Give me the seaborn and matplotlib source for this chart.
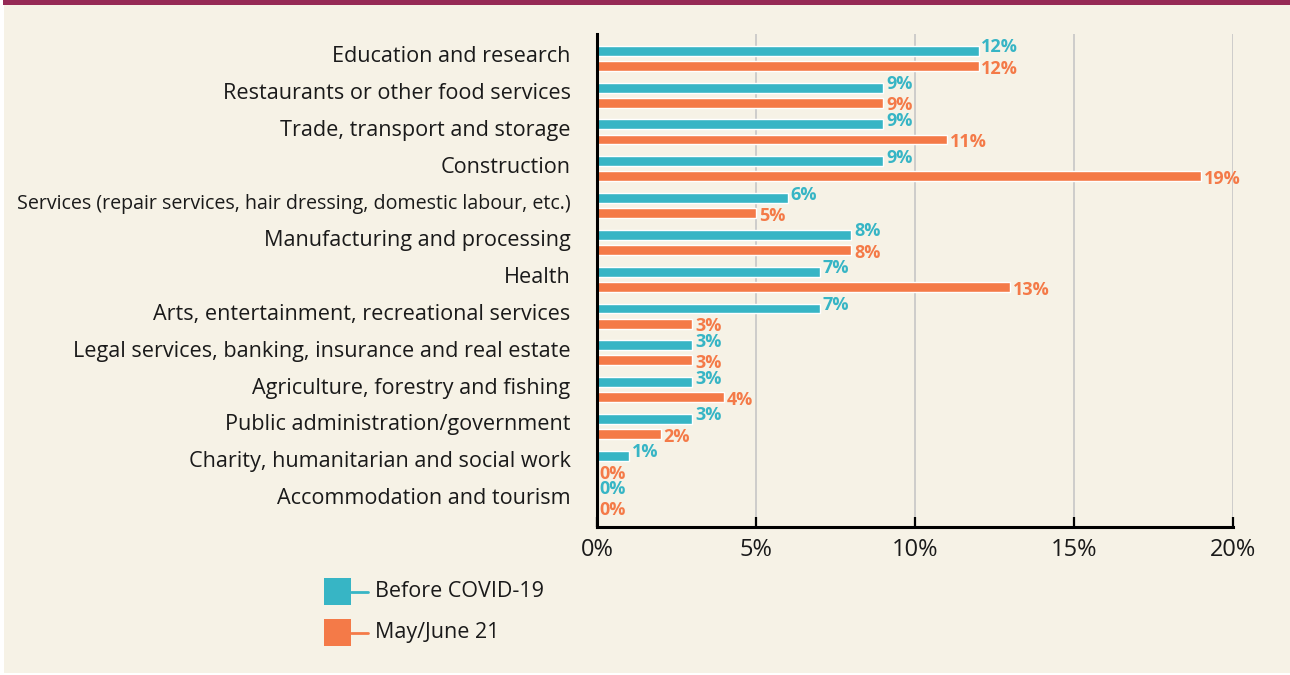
import numpy as np
import pandas as pd
import matplotlib.pyplot as plt
import matplotlib.transforms as mtransforms
import seaborn as sns
from matplotlib.patches import Rectangle

# Sectors, top to bottom
sectors = [
    'Education and research',
    'Restaurants or other food services',
    'Trade, transport and storage',
    'Construction',
    'Services (repair services, hair dressing, domestic labour, etc.)',
    'Manufacturing and processing',
    'Health',
    'Arts, entertainment, recreational services',
    'Legal services, banking, insurance and real estate',
    'Agriculture, forestry and fishing',
    'Public administration/government',
    'Charity, humanitarian and social work',
    'Accommodation and tourism',
]
before_covid = [12, 9, 9, 9, 6, 8, 7, 7, 3, 3, 3, 1, 0]
may_june = [12, 9, 11, 19, 5, 8, 13, 3, 3, 4, 2, 0, 0]
series = ['Before COVID-19', 'May/June 21']
x_ticks = [0, 5, 10, 15, 20]

teal = '#37b5c5'
orange = '#f47a48'
beige = '#f6f2e6'
maroon = '#962a55'

df = pd.DataFrame({
    'sector': sectors * 2,
    'share': before_covid + may_june,
    'period': [series[0]] * len(sectors) + [series[1]] * len(sectors),
})

sns.set_theme(style='white')
plt.rcParams['font.family'] = ['Open Sans', 'DejaVu Sans']

fig = plt.figure(figsize=(12.9, 6.75), dpi=100)
fig.patch.set_facecolor('white')

# background panel drawn in pixel coordinates
bg = fig.add_axes([0, 0, 1, 1], zorder=-1)
bg.set_xlim(0, 1290)
bg.set_ylim(675, 0)
bg.axis('off')
bg.add_patch(Rectangle((4, 5), 1286, 668, color=beige, lw=0))
bg.add_patch(Rectangle((3, 0), 1287, 5, color=maroon, lw=0))

ax = fig.add_axes([597 / 1290, 1 - 527 / 675, (1233 - 597) / 1290, (527 - 34) / 675])
ax.set_facecolor('none')

sns.barplot(data=df, y='sector', x='share', hue='period', orient='h',
            palette=[teal, orange], width=0.82, gap=0.34, legend=False,
            saturation=1, ax=ax, zorder=3)

# value labels, nudged apart a little (teal up, orange down)
for cont, col, dy in zip(ax.containers, [teal, orange], [2.5, -2]):
    texts = ax.bar_label(cont, fmt='{:.0f}%', padding=2, color=col,
                         fontsize=13, fontweight='bold')
    for t in texts:
        x0, y0 = t.xyann
        t.xyann = (x0, y0 + dy)

ax.set_xlim(0, 20)
ax.set_ylim(12.73, -0.66)
ax.set_xticks(x_ticks)
ax.set_xticklabels([f'{t}%' for t in x_ticks], fontsize=17, color='#1a1a1a')
ax.set_xlabel('')
ax.set_ylabel('')
ax.tick_params(axis='y', length=0, pad=19, labelsize=15.6, labelcolor='#1a1a1a')
ax.tick_params(axis='x', direction='in', length=7, width=1.6, color='black',
               pad=8, bottom=True)

# category labels sit a little above the bar pair centre in the original
lift = mtransforms.ScaledTranslation(0, 3 / 72, fig.dpi_scale_trans)
for lbl in ax.get_yticklabels():
    lbl.set_transform(lbl.get_transform() + lift)
    if lbl.get_text().startswith('Services'):
        lbl.set_fontsize(14.1)

ax.xaxis.grid(True, color='#c6c6c6', lw=1.2, zorder=0)
ax.yaxis.grid(False)
for side in ['top', 'right']:
    ax.spines[side].set_visible(False)
for side in ['left', 'bottom']:
    ax.spines[side].set_color('black')
    ax.spines[side].set_linewidth(2.2)
    ax.spines[side].set_zorder(4)

# legend: square + short line stub, as in the original
for i, (name, col) in enumerate(zip(series, [teal, orange])):
    y0 = 578 + i * 41
    bg.add_patch(Rectangle((324, y0), 27, 27, color=col, lw=0, zorder=2))
    bg.plot([351, 368], [y0 + 13.5, y0 + 13.5], color=col, lw=2, zorder=2)
    bg.text(375, y0 + 13.5, name, fontsize=15.5, color='#1a1a1a', va='center', ha='left')

fig.savefig('out.png', dpi=100)
